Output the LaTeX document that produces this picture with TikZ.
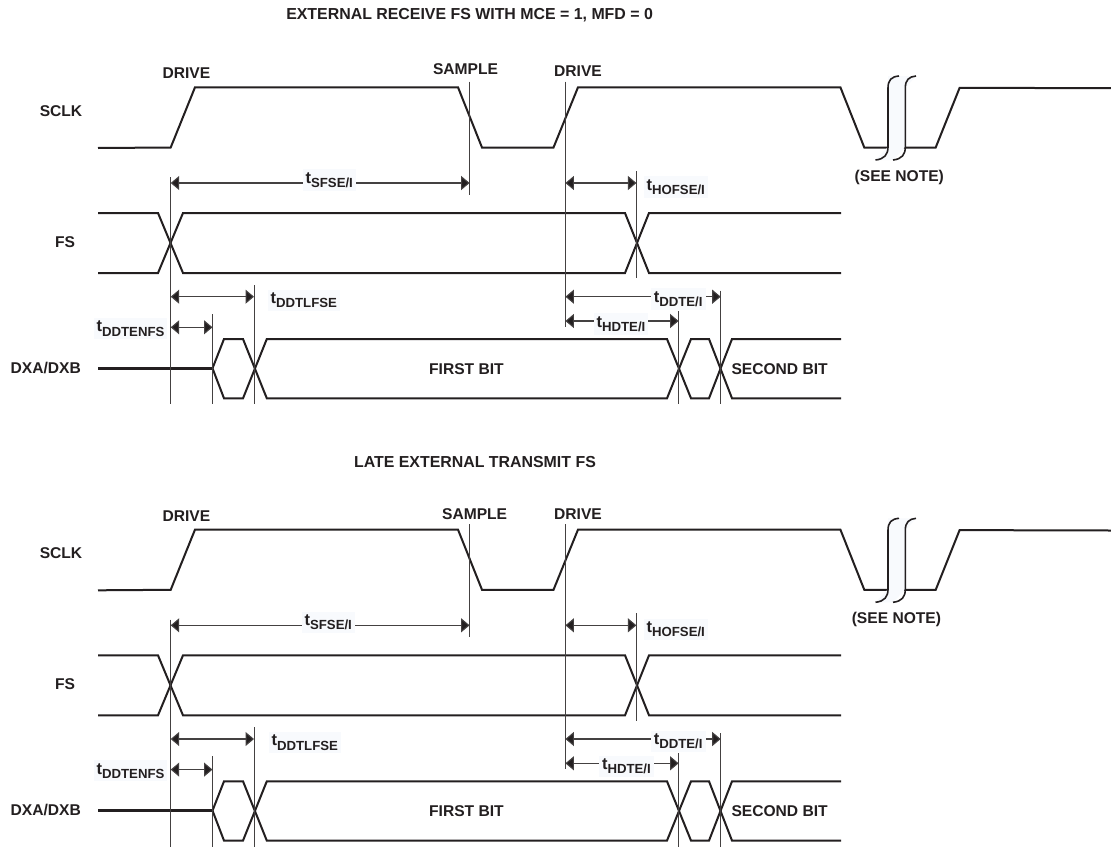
\documentclass[tikz,border=0pt]{standalone}
\usepackage{fontspec}
\setmainfont{Liberation Sans}
\usetikzlibrary{arrows.meta}
\definecolor{ink}{HTML}{231F20}
\definecolor{patch}{HTML}{F8FAFD}
\tikzset{
  x=1pt,y=-1pt,
  wave/.style={draw=ink,line width=2pt,line join=miter},
  thickwave/.style={draw=ink,line width=2.4pt},
  guide/.style={draw=ink!85,line width=1pt},
  dim/.style={draw=ink!85,line width=1.1pt,{Triangle[length=8.5pt,width=14pt,fill=ink]}-{Triangle[length=8.5pt,width=14pt,fill=ink]}},
  txt/.style={inner sep=0pt,text=ink,font=\fontsize{15.6}{16}\selectfont\bfseries},
  headline/.style={inner sep=0pt,text=ink,font=\fontsize{15.9}{16}\selectfont\bfseries},
  tlab/.style={inner xsep=3pt,inner ysep=3pt,fill=patch,text=ink,anchor=base west,xshift=-3pt},
}
\newcommand{\tsub}[1]{{\fontsize{16.5}{17}\selectfont\bfseries t}\raisebox{-4.3pt}{\fontsize{13.2}{14}\selectfont\bfseries #1}}
% #1 prefix, #2 yshift, then \def values
\newcommand{\timingpanel}[2]{%
\begin{scope}[yshift=-#2pt]
  % signal waveforms
  \draw[wave] (98,148)--(170.7,147.5)--(195,87.3)--(458,87.3)--(482,147.5)--(553.5,147.5)--(578,87.3)--(840.4,87.3)--(864.3,147.5)--(935.7,147.5)--(959.6,87.8)--(1111,88.2);
  \draw[wave] (98,213)--(158,213)--(183,273)--(625,273)--(649,213)--(841,213);
  \draw[wave] (98,273)--(158,273)--(183,213)--(625,213)--(649,273)--(841,273);
  \draw[thickwave] (98,368.3)--(212.5,368.3);
  \draw[wave] (212.5,368.3)--(224,339)--(243,339)--(266.8,398.3)--(667,398.3)--(691,339)--(709,339)--(732,398.3)--(841,398.3);
  \draw[wave] (212.5,368.3)--(224,398.3)--(243,398.3)--(266.8,339)--(667,339)--(691,398.3)--(709,398.3)--(732,339)--(841,339);
  % break symbol
  \fill[patch] (888,76)--(916,76)--(905.3,88)--(905.3,147)--(893,160)--(875.5,160)--(888,147)--cycle;
  \draw[ink,line width=1.6pt] (875.5,160) .. controls (884.5,159) and (888,154.5) .. (888,147) -- (888,88) .. controls (888,80) and (891.5,76.6) .. (899,76);
  \draw[ink,line width=1.6pt] (893,160) .. controls (902,159) and (905.3,154.5) .. (905.3,147) -- (905.3,88) .. controls (905.3,80) and (909,76.6) .. (916,76);
  % guides
  \coordinate (#1aT) at (170.7,177.3); \coordinate (#1aB) at (170.7,404.3);
  \coordinate (#1sT) at (469.6,81.7); \coordinate (#1sB) at (469.6,195);
  \coordinate (#1dT) at (565.4,81.7); \coordinate (#1dB) at (565.4,326.7);
  \coordinate (#1eT) at (212.5,314); \coordinate (#1eB) at (212.5,404.3);
  \coordinate (#1fT) at (254,285); \coordinate (#1fB) at (254,404.3);
  \coordinate (#1hT) at (636.4,171); \coordinate (#1hB) at (636.4,278.3);
  \coordinate (#1iT) at (678.6,311); \coordinate (#1iB) at (678.6,404.3);
  \coordinate (#1jT) at (720.7,290.7); \coordinate (#1jB) at (720.7,404.3);
  \foreach \g in {a,s,d,e,f,h,i,j} \draw[guide] (#1\g T)--(#1\g B);
  % dimension arrows
  \coordinate (#1sfL) at (170.7,183); \coordinate (#1sfR) at (469.6,183);
  \coordinate (#1hoL) at (565.4,183); \coordinate (#1hoR) at (636.4,183);
  \coordinate (#1tlL) at (170.7,296.7); \coordinate (#1tlR) at (254,296.7);
  \coordinate (#1teL) at (170.7,327.3); \coordinate (#1teR) at (212.5,327.3);
  \coordinate (#1ddL) at (565.4,296.7); \coordinate (#1ddR) at (720.7,296.7);
  \coordinate (#1hdL) at (565.4,321); \coordinate (#1hdR) at (678.6,321);
  \draw[dim] (#1sfL)--(#1sfR);
  \draw[dim] (#1hoL)--(#1hoR);
  \draw[dim] (#1tlL)--(#1tlR);
  \draw[dim] (#1teL)--(#1teR);
  \draw[dim] (#1ddL)--(#1ddR);
  \draw[dim] (#1hdL)--(#1hdR);
  % labels
  \node[txt] (#1drA) at (186.4,73.4) {DRIVE};
  \node[txt] (#1sam) at (\samx,\samy) {SAMPLE};
  \node[txt] (#1drB) at (578,71.4) {DRIVE};
  \node[txt] (#1sclk) at (61,110.7) {SCLK};
  \node[txt] (#1fs) at (65,242.3) {FS};
  \node[txt] (#1dx) at (45.7,367.6) {DXA/DXB};
  \node[txt] (#1fb) at (466.4,\bity) {FIRST BIT};
  \node[txt] (#1sb) at (779.6,\bity) {SECOND BIT};
  \node[txt] (#1note) at (\notex,177) {(SEE NOTE)};
  \node[tlab] (#1tsf) at (\sfx,183) {\tsub{SFSE/I}};
  \node[tlab] (#1tho) at (646.4,190) {\tsub{HOFSE/I}};
  \node[tlab] (#1ttl) at (\tlx,303.5) {\tsub{DDTLFSE}};
  \node[tlab] (#1tte) at (96.4,331.7) {\tsub{DDTENFS}};
  \node[tlab] (#1tdd) at (653.6,302) {\tsub{DDTE/I}};
  \node[tlab] (#1thd) at (\hdx,327) {\tsub{HDTE/I}};
\end{scope}}
\begin{document}
\begin{tikzpicture}
  \useasboundingbox (0,0) rectangle (1111,846);
  \fill[white] (0,0) rectangle (1111,846);
  \node[headline] (title1) at (469.6,14.7) {EXTERNAL RECEIVE FS WITH MCE = 1, MFD = 0};
  \node[headline] (title2) at (475,461.7) {LATE EXTERNAL TRANSMIT FS};
  \def\samx{465.5}\def\samy{69.3}\def\bity{369.3}\def\notex{899.3}\def\sfx{305.4}\def\tlx{270.4}\def\hdx{596.4}
  \timingpanel{p}{0}
  \def\samx{474.6}\def\samy{72}\def\bity{368.6}\def\notex{896.4}\def\sfx{304.4}\def\tlx{271.4}\def\hdx{601.8}
  \timingpanel{q}{442.3}
\end{tikzpicture}
\end{document}
